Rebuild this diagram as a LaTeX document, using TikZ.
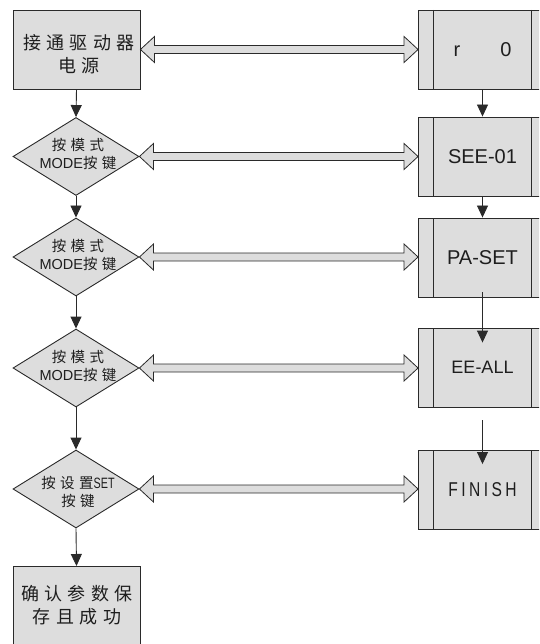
\documentclass[tikz,border=0pt]{standalone}
\usepackage{fontspec}
\setmainfont{Liberation Sans}
\newfontfamily\cjkwide[LetterSpace=30]{Noto Sans CJK SC}
\newfontfamily\cjkplain{Noto Sans CJK SC}
\usetikzlibrary{arrows.meta,shapes.geometric,calc}

\definecolor{boxfill}{HTML}{DDDDDD}
\definecolor{linec}{HTML}{2A2A2A}
\definecolor{textc}{HTML}{1E1E1E}

\newcommand\latinpart[1]{{\rmfamily\fontsize{14.5}{18.5}\selectfont #1}}

\tikzset{
  stepbox/.style={draw=linec, fill=boxfill, line width=0.9pt, inner sep=0pt,
    minimum width=127pt, minimum height=79pt},
  steptext/.style={align=center, text=textc, inner sep=0pt,
    font=\cjkwide\fontsize{18}{23}\selectfont},
  decide/.style={diamond, draw=linec, fill=boxfill, line width=0.9pt, inner sep=0pt,
    minimum width=126pt, minimum height=78pt},
  decidetext/.style={align=center, text=textc, inner sep=0pt,
    font=\cjkplain\fontsize{14.5}{18.5}\selectfont},
  procbox/.style={draw=linec, fill=boxfill, line width=0.9pt, inner sep=0pt,
    minimum width=128pt, minimum height=79pt, text=textc,
    font=\fontsize{20}{24}\selectfont,
    path picture={
      \draw[linec, line width=0.8pt]
        ([xshift=15pt]path picture bounding box.north west) --
        ([xshift=15pt]path picture bounding box.south west);
      \draw[linec, line width=0.8pt]
        ([xshift=-15pt]path picture bounding box.north east) --
        ([xshift=-15pt]path picture bounding box.south east);}},
  flow/.style={draw=linec, line width=0.9pt,
    -{Triangle[length=12pt, width=11pt]}},
  % hollow two-headed block arrow between two points on the same height
  fatarrow/.style={draw=linec, fill=boxfill, line width=0.8pt,
    to path={let \p1=(\tikztostart), \p2=(\tikztotarget) in
      (\x1,\y1) -- (\x1+14pt,\y1+13pt) -- (\x1+14pt,\y1+4pt) --
      (\x2-14pt,\y1+4pt) -- (\x2-14pt,\y1+13pt) -- (\x2,\y1) --
      (\x2-14pt,\y1-13pt) -- (\x2-14pt,\y1-4pt) -- (\x1+14pt,\y1-4pt) --
      (\x1+14pt,\y1-13pt) -- cycle}},
}

\begin{document}
\begin{tikzpicture}[x=1pt, y=-1pt]
\clip (0,0) rectangle (539,644);
\useasboundingbox (0,0) rectangle (539,644);

% left column: operator actions
\node[stepbox] (power) at (76.5,49.5) {};
\node[steptext] (powert) at (79,54) {接通驱动器\\电源};
\node[decide] (m1) at (76,156.5) {};
\node[decidetext] (m1t) at (78,154) {{\cjkwide 按模式}\\\latinpart{MODE}{\cjkwide 按键}};
\node[decide] (m2) at (76,257) {};
\node[decidetext] (m2t) at (78,255) {{\cjkwide 按模式}\\\latinpart{MODE}{\cjkwide 按键}};
\node[decide] (m3) at (76,368) {};
\node[decidetext] (m3t) at (78,366) {{\cjkwide 按模式}\\\latinpart{MODE}{\cjkwide 按键}};
\node[decide] (s1) at (76,489) {};
\node[decidetext] (s1t) at (78,492)
  {{\cjkwide 按设置}{\rmfamily\fontsize{15}{18.5}\selectfont\scalebox{0.72}[1]{SET}}\\{\cjkwide 按键}};
\node[stepbox, minimum height=92pt, anchor=north] (done) at (76.5,566) {};
\node[steptext] (donet) at (77,605) {确认参数保\\存且成功};

% right column: display readings
\node[procbox] (r0) at (482.5,49.5) {r\hspace{40pt}0};
\node[procbox] (see) at (482.5,156.5) {SEE-01};
\node[procbox] (paset) at (482.5,257.5) {PA-SET};
\node[procbox] (eeall) at (482.5,367.5) {\fontsize{18}{22}\selectfont EE-ALL};
\node[procbox] (fin) at (482.5,490)
  {\scalebox{0.78}[1]{\addfontfeature{LetterSpace=22}FINISH}};

% sequence on the left
\draw[flow] (power.south) -- (m1.north);
\draw[flow] (m1.south) -- (m2.north);
\draw[flow] (m2.south) -- (m3.north);
\draw[flow] (m3.south) -- (s1.north);
\draw[flow] (s1.south) -- (done.north);

% sequence on the right
\draw[flow] (r0.south) -- (see.north);
\draw[flow] (see.south) -- (paset.north);
\draw[flow] ($(paset.south)+(0,5pt)$) -- ($(eeall.north)+(0,-15pt)$);
\draw[flow] ($(eeall.south)+(0,-13pt)$) -- ($(fin.north)+(0,-14pt)$);

% links between action and reading
\draw[fatarrow] (power.east) to (r0.west);
\draw[fatarrow] (m1.east) to (see.west);
\draw[fatarrow] (m2.east) to (paset.west);
\draw[fatarrow] (m3.east) to (eeall.west);
\draw[fatarrow] (s1.east) to (fin.west);
\end{tikzpicture}
\end{document}
